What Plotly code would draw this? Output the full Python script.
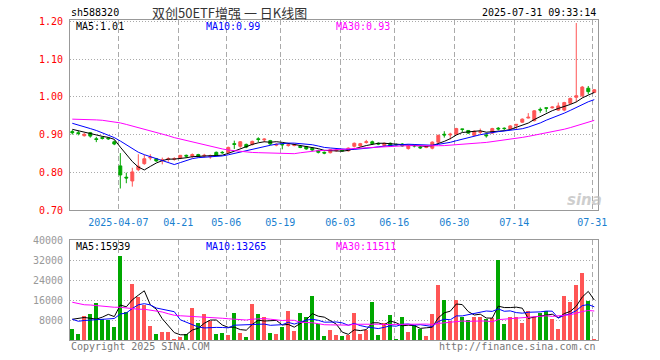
import plotly.graph_objects as go
import pandas as pd

# ---------------- data ----------------
dates = [
    "2025-03-25", "2025-03-26", "2025-03-27", "2025-03-28", "2025-03-31", "2025-04-01", "2025-04-02", "2025-04-03",
    "2025-04-07", "2025-04-08", "2025-04-09", "2025-04-10", "2025-04-11", "2025-04-14", "2025-04-15", "2025-04-16",
    "2025-04-17", "2025-04-18", "2025-04-21", "2025-04-22", "2025-04-23", "2025-04-24", "2025-04-25", "2025-04-28",
    "2025-04-29", "2025-04-30", "2025-05-06", "2025-05-07", "2025-05-08", "2025-05-09", "2025-05-12", "2025-05-13",
    "2025-05-14", "2025-05-15", "2025-05-16", "2025-05-19", "2025-05-20", "2025-05-21", "2025-05-22", "2025-05-23",
    "2025-05-26", "2025-05-27", "2025-05-28", "2025-05-29", "2025-05-30", "2025-06-03", "2025-06-04", "2025-06-05",
    "2025-06-06", "2025-06-09", "2025-06-10", "2025-06-11", "2025-06-12", "2025-06-13", "2025-06-16", "2025-06-17",
    "2025-06-18", "2025-06-19", "2025-06-20", "2025-06-23", "2025-06-24", "2025-06-25", "2025-06-26", "2025-06-27",
    "2025-06-30", "2025-07-01", "2025-07-02", "2025-07-03", "2025-07-04", "2025-07-07", "2025-07-08", "2025-07-09",
    "2025-07-10", "2025-07-11", "2025-07-14", "2025-07-15", "2025-07-16", "2025-07-17", "2025-07-18", "2025-07-21",
    "2025-07-22", "2025-07-23", "2025-07-24", "2025-07-25", "2025-07-28", "2025-07-29", "2025-07-30", "2025-07-31",
]

opens = [
    0.908, 0.905, 0.897, 0.905, 0.889, 0.892, 0.891, 0.881, 0.817, 0.787, 0.777, 0.807, 0.823, 0.838, 0.836, 0.831,
    0.834, 0.835, 0.838, 0.845, 0.843, 0.847, 0.843, 0.841, 0.853, 0.853, 0.853, 0.876, 0.869, 0.874, 0.874, 0.889,
    0.886, 0.884, 0.872, 0.874, 0.871, 0.871, 0.869, 0.868, 0.864, 0.858, 0.853, 0.852, 0.857, 0.859, 0.857, 0.869,
    0.870, 0.879, 0.881, 0.877, 0.871, 0.877, 0.874, 0.875, 0.863, 0.872, 0.867, 0.866, 0.864, 0.880, 0.901, 0.899,
    0.901, 0.915, 0.911, 0.898, 0.906, 0.899, 0.904, 0.917, 0.917, 0.915, 0.925, 0.933, 0.944, 0.937, 0.967, 0.971,
    0.971, 0.965, 0.965, 0.983, 0.999, 1.003, 1.023, 1.012,
]
highs = [
    0.912, 0.910, 0.904, 0.907, 0.894, 0.895, 0.893, 0.885, 0.851, 0.799, 0.812, 0.848, 0.846, 0.848, 0.838, 0.839,
    0.840, 0.840, 0.846, 0.847, 0.850, 0.849, 0.849, 0.847, 0.855, 0.856, 0.868, 0.884, 0.883, 0.876, 0.884, 0.893,
    0.890, 0.886, 0.877, 0.877, 0.875, 0.876, 0.872, 0.870, 0.866, 0.860, 0.855, 0.862, 0.861, 0.861, 0.866, 0.879,
    0.878, 0.886, 0.884, 0.879, 0.879, 0.879, 0.876, 0.877, 0.873, 0.874, 0.869, 0.870, 0.882, 0.900, 0.909, 0.905,
    0.918, 0.915, 0.912, 0.911, 0.916, 0.905, 0.918, 0.920, 0.919, 0.925, 0.928, 0.943, 0.957, 0.965, 0.972, 0.971,
    0.975, 0.985, 0.987, 0.998, 1.196, 1.029, 1.029, 1.021,
]
lows = [
    0.900, 0.898, 0.895, 0.892, 0.880, 0.887, 0.886, 0.872, 0.757, 0.771, 0.762, 0.803, 0.820, 0.832, 0.828, 0.821,
    0.828, 0.831, 0.835, 0.838, 0.838, 0.840, 0.840, 0.836, 0.843, 0.849, 0.850, 0.862, 0.865, 0.864, 0.871, 0.880,
    0.880, 0.872, 0.869, 0.861, 0.868, 0.869, 0.864, 0.860, 0.856, 0.850, 0.848, 0.850, 0.855, 0.855, 0.855, 0.866,
    0.868, 0.876, 0.873, 0.872, 0.869, 0.867, 0.871, 0.868, 0.860, 0.866, 0.862, 0.864, 0.861, 0.878, 0.892, 0.887,
    0.899, 0.907, 0.902, 0.896, 0.900, 0.892, 0.902, 0.911, 0.912, 0.913, 0.915, 0.931, 0.943, 0.935, 0.958, 0.959,
    0.969, 0.963, 0.962, 0.981, 0.986, 0.998, 1.007, 1.010,
]
closes = [
    0.905, 0.903, 0.901, 0.896, 0.887, 0.890, 0.889, 0.875, 0.793, 0.785, 0.801, 0.816, 0.836, 0.840, 0.830, 0.833,
    0.836, 0.836, 0.845, 0.843, 0.847, 0.842, 0.845, 0.843, 0.845, 0.852, 0.866, 0.874, 0.881, 0.867, 0.882, 0.887,
    0.888, 0.875, 0.874, 0.873, 0.873, 0.874, 0.866, 0.862, 0.859, 0.853, 0.851, 0.860, 0.859, 0.857, 0.864, 0.877,
    0.876, 0.881, 0.876, 0.875, 0.877, 0.869, 0.873, 0.870, 0.871, 0.870, 0.865, 0.868, 0.880, 0.898, 0.899, 0.901,
    0.916, 0.914, 0.904, 0.909, 0.908, 0.897, 0.916, 0.915, 0.916, 0.923, 0.927, 0.941, 0.946, 0.963, 0.965, 0.970,
    0.973, 0.976, 0.985, 0.996, 1.003, 1.026, 1.014, 1.019,
]
volumes = [
    4400, 2400, 9700, 10400, 14800, 8400, 8000, 5200, 33600, 11100, 22400, 17300, 14000, 5600, 2400, 3200,
    3200, 400, 1300, 2300, 12800, 6700, 10400, 7700, 2400, 2800, 2000, 10800, 2800, 1200, 14400, 10400,
    9200, 2800, 2400, 5200, 11600, 3600, 10800, 9200, 17600, 6400, 1700, 4000, 2000, 1600, 2000, 10800,
    2400, 4000, 15200, 2000, 6800, 10000, 400, 9200, 3200, 6000, 4400, 1600, 10400, 22000, 16000, 7600,
    16000, 9200, 8000, 9200, 9200, 8400, 8900, 32000, 6400, 9200, 9200, 6800, 11600, 9200, 10800, 11600,
    8400, 4400, 17600, 15200, 22000, 26800, 15600, 400,
]

# moving-average values before enough history exists inside the window
price_ma5_head = [0.914, 0.910, 0.906, 0.902]
price_ma10_head = [0.930, 0.926, 0.921, 0.916, 0.911, 0.905, 0.899, 0.892, 0.883]
price_ma30_head = [0.941, 0.941, 0.940, 0.940, 0.939, 0.938, 0.936, 0.934, 0.931, 0.927, 0.923, 0.919, 0.915,
                   0.911, 0.906, 0.902, 0.897, 0.892, 0.888, 0.884, 0.880, 0.876, 0.872, 0.868, 0.865, 0.862,
                   0.859, 0.857, 0.855]
vol_ma5_head = [8300, 8600, 9000, 8700]
vol_ma10_head = [8300, 7500, 7800, 8000, 8100, 8300, 8400, 8600, 10400]
vol_ma30_head = [15100, 14500, 14100, 14000, 13700, 13500, 13300, 13100, 13100, 12800, 12500, 12300, 12300,
                 12000, 11600, 11200, 10500, 9900, 9700, 9600, 9500, 9300, 9100, 8900, 8800, 8700, 8500,
                 8400, 8300]

tick_dates = ["2025-04-07", "2025-04-21", "2025-05-06", "2025-05-19", "2025-06-03",
              "2025-06-16", "2025-06-30", "2025-07-14", "2025-07-31"]
tick_labels = ["2025-04-07", "04-21", "05-06", "05-19", "06-03", "06-16", "06-30", "07-14", "07-31"]
price_ticks = [0.70, 0.80, 0.90, 1.00, 1.10, 1.20]
vol_ticks = [8000, 16000, 24000, 32000, 40000]

title_text = "双创50ETF增强 一 日K线图"
code_text = "sh588320"
time_text = "2025-07-31 09:33:14"
price_legend = ["MA5:1.01", "MA10:0.99", "MA30:0.93"]
vol_legend = ["MA5:15939", "MA10:13265", "MA30:11511"]

# ---------------- styling ----------------
RED = "#ff5555"
GREEN = "#00a800"
MA_COLORS = ["#000000", "#0000ff", "#ff00ff"]
MONO = "DejaVu Sans Mono"

W, H = 660, 360
L, R, T, B = 70, 598, 20, 340


def px(x):
    return (x - L) / (R - L)


def py(y):
    return (B - y) / (B - T)


idx = list(range(len(dates)))


def rolling(vals, n, head):
    s = pd.Series(vals, dtype=float).rolling(n).mean()
    s.iloc[:len(head)] = head
    return s.tolist()


p_ma = [rolling(closes, 5, price_ma5_head), rolling(closes, 10, price_ma10_head),
        rolling(closes, 30, price_ma30_head)]
v_ma = [rolling(volumes, 5, vol_ma5_head), rolling(volumes, 10, vol_ma10_head),
        rolling(volumes, 30, vol_ma30_head)]

vol_colors = [RED if c >= o else GREEN for o, c in zip(opens, closes)]

fig = go.Figure()

fig.add_trace(go.Candlestick(
    x=idx, open=opens, high=highs, low=lows, close=closes,
    increasing=dict(line=dict(color=RED, width=1), fillcolor=RED),
    decreasing=dict(line=dict(color=GREEN, width=1), fillcolor=GREEN),
    whiskerwidth=0, xaxis="x", yaxis="y", showlegend=False, hoverinfo="skip"))

for vals, col in zip(p_ma, MA_COLORS):
    fig.add_trace(go.Scatter(x=idx, y=vals, mode="lines", line=dict(color=col, width=1),
                             xaxis="x", yaxis="y", showlegend=False, hoverinfo="skip"))

fig.add_trace(go.Bar(x=idx, y=volumes, marker=dict(color=vol_colors, line=dict(width=0)),
                     width=0.72, xaxis="x2", yaxis="y2", showlegend=False, hoverinfo="skip"))

for vals, col in zip(v_ma, MA_COLORS):
    fig.add_trace(go.Scatter(x=idx, y=vals, mode="lines", line=dict(color=col, width=1),
                             xaxis="x2", yaxis="y2", showlegend=False, hoverinfo="skip"))

tickpos = [dates.index(d) - 0.33 for d in tick_dates]
xr = [-0.383, len(dates) - 0.38]

common_x = dict(range=xr, tickvals=tickpos, showgrid=True, gridcolor="#aaaaaa", griddash="5px,3px",
                gridwidth=1, zeroline=False, showline=True, mirror=True, linecolor="#999999",
                linewidth=1, ticks="", fixedrange=True)

fig.update_layout(
    width=W, height=H,
    margin=dict(l=L, r=W - R, t=T, b=H - B),
    paper_bgcolor="white", plot_bgcolor="white",
    bargap=0,
    xaxis=dict(**common_x, domain=[0, 1], anchor="y", ticktext=tick_labels,
               tickfont=dict(family=MONO, size=10, color="#1a7fd0"),
               ticklabelstandoff=3, rangeslider=dict(visible=False)),
    xaxis2=dict(**common_x, domain=[0, 1], anchor="y2", showticklabels=False),
    yaxis=dict(domain=[py(210), 1], range=[0.70, 1.204], tickvals=price_ticks,
               ticktext=[f"{v:.2f}" for v in price_ticks],
               tickfont=dict(family=MONO, size=10, color="#ff0000"),
               showgrid=True, gridcolor="#aaaaaa", griddash="1px,2px", zeroline=False,
               showline=True, mirror=True, linecolor="#999999", linewidth=1, ticks="",
               ticklabelstandoff=4, fixedrange=True),
    yaxis2=dict(domain=[0, py(240)], range=[0, 40000], tickvals=vol_ticks,
                ticktext=[str(v) for v in vol_ticks],
                tickfont=dict(family=MONO, size=10, color="#999999"),
                showgrid=True, gridcolor="#aaaaaa", griddash="1px,2px", zeroline=False,
                showline=True, mirror=True, linecolor="#999999", linewidth=1, ticks="",
                ticklabelstandoff=4, fixedrange=True),
)


def note(text, x, y, color="#000000", anchor="left", size=10, family=MONO):
    fig.add_annotation(text=text, x=px(x), y=py(y), xref="paper", yref="paper",
                       xanchor=anchor, yanchor="middle", showarrow=False,
                       font=dict(family=family, size=size, color=color))


note(code_text, 69, 13)
note(title_text, 150, 12, color="#333333", size=13, family="Noto Sans CJK SC")
note(time_text, 598, 13, anchor="right")

for txt, x, col in zip(price_legend, [74, 204, 334], MA_COLORS):
    note(txt, x, 27, color=col)
for txt, x, col in zip(vol_legend, [74, 204, 334], MA_COLORS):
    note(txt, x, 246, color=col)

note("Copyright 2025 SINA.COM", 69, 346, color="#777777")
note("http://finance.sina.com.cn", 598, 346, color="#777777", anchor="right")

fig.add_annotation(text="<b><i>sina</i></b>", x=px(584), y=py(200), xref="paper", yref="paper",
                   xanchor="center", yanchor="middle", showarrow=False,
                   font=dict(family="DejaVu Sans", size=15, color="rgba(190,190,190,0.75)"))

fig.write_html("out.html", config={"displayModeBar": False},
               post_script="document.body.style.margin='0px';document.body.style.overflow='hidden';")
